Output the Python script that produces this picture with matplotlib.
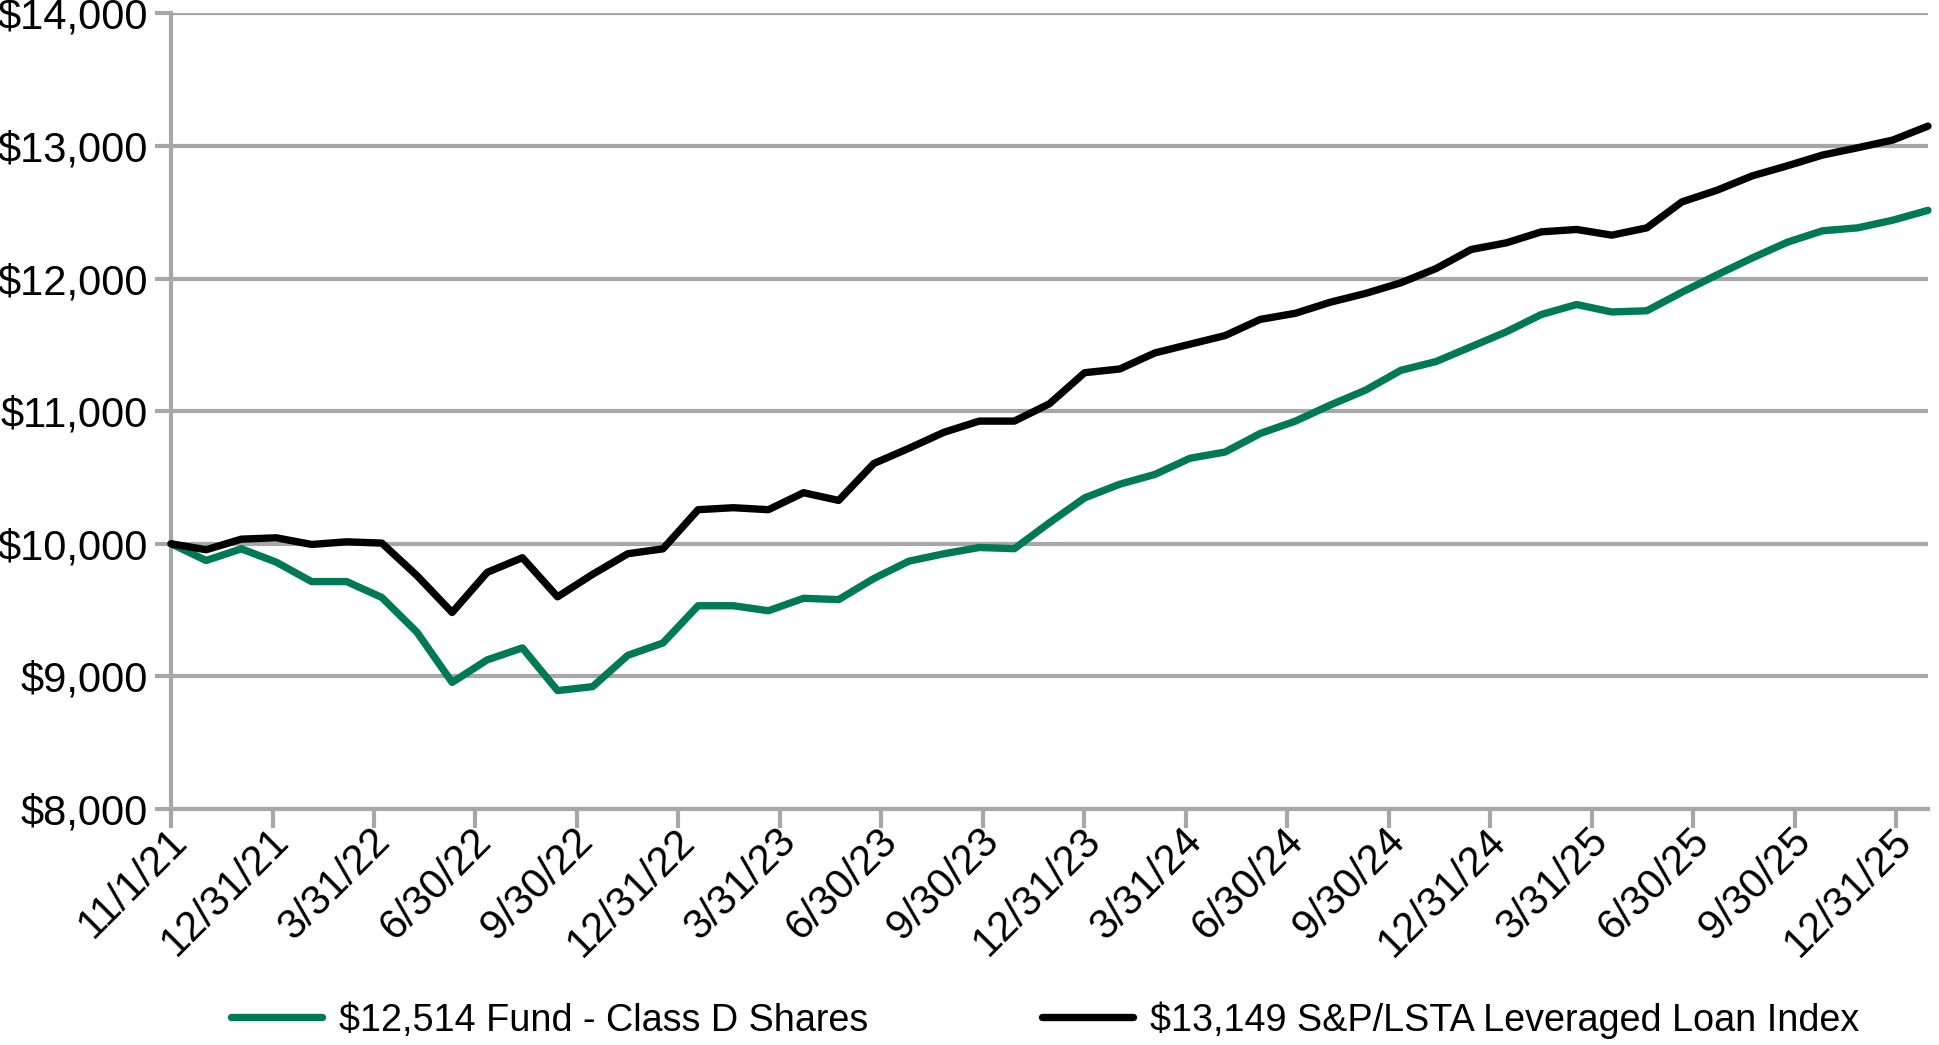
import matplotlib
matplotlib.use("Agg")
import matplotlib.pyplot as plt
import matplotlib.transforms as mtrans
import numpy as np
from matplotlib.ticker import FuncFormatter

plt.rcParams['font.family'] = ['Liberation Sans', 'DejaVu Sans']

# monthly values, 11/1/21 through 12/31/25 (51 points)
fund = [10000, 9874, 9962, 9861, 9715, 9715, 9595, 9333, 8955, 9125,
        9215, 8893, 8923, 9159, 9252, 9533, 9533, 9495, 9589, 9579,
        9738, 9869, 9925, 9972, 9963, 10159, 10346, 10449, 10523, 10645,
        10692, 10832, 10925, 11047, 11159, 11308, 11374, 11486, 11598, 11729,
        11804, 11748, 11757, 11897, 12028, 12155, 12274, 12360, 12382, 12440,
        12514]
index = [10000, 9955, 10035, 10045, 9995, 10015, 10005, 9760, 9482, 9785,
         9895, 9600, 9770, 9925, 9962, 10257, 10272, 10257, 10385, 10327,
         10605, 10720, 10841, 10925, 10925, 11056, 11290, 11318, 11439, 11505,
         11570, 11692, 11738, 11822, 11888, 11968, 12075, 12219, 12269, 12352,
         12370, 12327, 12382, 12578, 12666, 12774, 12850, 12931, 12986, 13044,
         13149]

tick_labels = ['11/1/21', '12/31/21', '3/31/22', '6/30/22', '9/30/22', '12/31/22',
               '3/31/23', '6/30/23', '9/30/23', '12/31/23', '3/31/24', '6/30/24',
               '9/30/24', '12/31/24', '3/31/25', '6/30/25', '9/30/25', '12/31/25']

fund_label = '$12,514 Fund - Class D Shares'
index_label = '$13,149 S&P/LSTA Leveraged Loan Index'

green = '#007A55'
grey = '#A7A7AA'
fs = 30
fs_leg = 27.2

fig = plt.figure(figsize=(19.39, 10.45), dpi=100)
ax = fig.add_axes([0.0882, 0.2258, 0.9061, 0.7615])

x = np.arange(len(fund))
l1, = ax.plot(x, fund, color=green, lw=5.3, solid_joinstyle='round',
              solid_capstyle='round', zorder=3, clip_on=False)
l2, = ax.plot(x, index, color='black', lw=5.3, solid_joinstyle='round',
              solid_capstyle='round', zorder=4, clip_on=False)

ax.set_xlim(0, len(fund) - 1)
ax.set_ylim(8000, 14000)
ax.set_yticks(np.arange(8000, 14001, 1000))
ax.yaxis.set_major_formatter(FuncFormatter(lambda v, p: f'${v:,.0f}'))

ax.grid(axis='y', color=grey, lw=3)
ax.set_axisbelow(True)
for s in ['top', 'right']:
    ax.spines[s].set_visible(False)
for s in ['left', 'bottom']:
    ax.spines[s].set_color(grey)
    ax.spines[s].set_linewidth(3)

ax.tick_params(axis='y', length=11.5, width=3, color=grey, labelsize=fs, pad=5)
ax.tick_params(axis='x', length=13.5, width=3, color=grey, labelsize=fs, pad=3)

ax.set_xticks(np.linspace(0, 49.1, len(tick_labels)))
ax.set_xticklabels(tick_labels, rotation=45, ha='right', va='center',
                   rotation_mode='anchor')
# nudge the slanted labels a little right, like the original
shift = mtrans.ScaledTranslation(0.10, -0.03, fig.dpi_scale_trans)
for lab in ax.get_xticklabels():
    lab.set_transform(lab.get_transform() + shift)

fig.legend([l1, l2], [fund_label, index_label], ncol=2, frameon=False,
           loc='center', bbox_to_anchor=(0.539, 0.024), fontsize=fs_leg,
           handlelength=2.4, handletextpad=0.45, columnspacing=4.6,
           borderaxespad=0, borderpad=0)

fig.savefig('out.png', dpi=100)
